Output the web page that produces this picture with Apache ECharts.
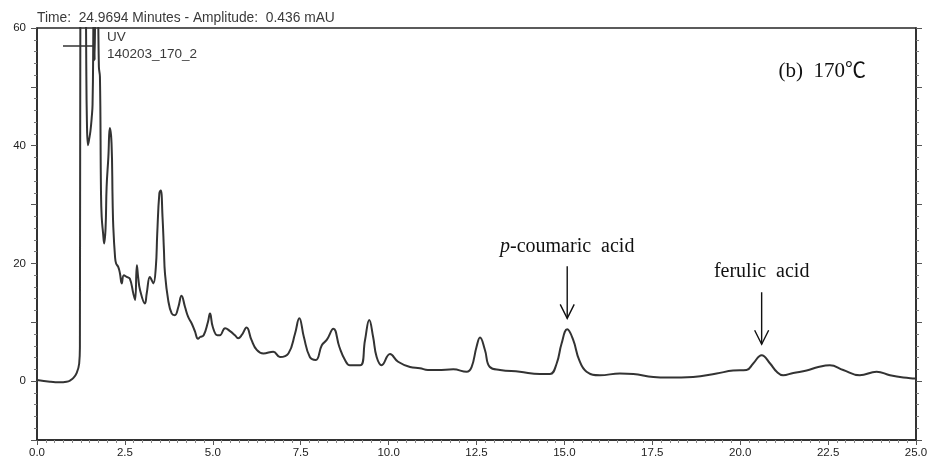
<!DOCTYPE html>
<html>
<head>
<meta charset="utf-8">
<script src="https://cdn.jsdelivr.net/npm/echarts@6/dist/echarts.min.js"></script>
<style>
  html, body { margin: 0; padding: 0; background: #ffffff; }
  #chart { width: 932px; height: 466px; }
</style>
</head>
<body>
<div id="chart"></div>
<script>
// Retention time (min) and detector response (mAU) of the UV trace
const retentionTime = [
  0.00, 0.37, 0.65, 0.84, 0.94, 1.03, 1.13, 1.20, 1.22, 1.235, 1.30, 1.36, 1.40, 1.42, 1.45,
  1.48, 1.52, 1.555, 1.58, 1.60, 1.615, 1.63, 1.64, 1.655, 1.68, 1.73, 1.76, 1.79, 1.82, 1.84,
  1.88, 1.91, 1.95, 1.98, 2.03, 2.07, 2.12, 2.15, 2.17, 2.22, 2.25, 2.31, 2.36, 2.41, 2.47,
  2.55, 2.64, 2.74, 2.79, 2.84, 2.88, 2.93, 3.07, 3.12, 3.21, 3.26, 3.31, 3.38, 3.42, 3.48,
  3.52, 3.57, 3.61, 3.64, 3.73, 3.83, 3.92, 4.02, 4.11, 4.21, 4.30, 4.40, 4.49, 4.58, 4.64,
  4.74, 4.86, 4.92, 5.00, 5.13, 5.20, 5.35, 5.49, 5.63, 5.72, 5.82, 5.96, 6.10, 6.25, 6.44,
  6.72, 6.91, 7.15, 7.34, 7.46, 7.59, 7.76, 7.93, 8.10, 8.24, 8.43, 8.60, 8.76, 8.90, 9.19,
  9.33, 9.45, 9.56, 9.66, 9.80, 10.04, 10.27, 10.61, 10.89, 11.12, 11.40, 11.84, 12.22, 12.36, 12.50,
  12.60, 12.74, 12.88, 13.17, 13.73, 14.30, 14.59, 14.78, 14.92, 15.08, 15.25, 15.42, 15.63, 16.01,
  16.58, 16.96, 17.53, 17.95, 18.66, 19.33, 19.80, 20.18, 20.37, 20.61, 20.85, 21.04, 21.22, 21.51,
  21.89, 22.22, 22.55, 22.93, 23.40, 23.88, 24.26, 24.64, 24.97, 25.00
];
const absorbance = [
  0.2, -0.1, -0.2, -0.1, 0.1, 0.5, 1.4, 3.0, 5.8, 70, 110, 90, 55, 44, 40.1,
  41, 42.5, 44.7, 47, 58, 75, 62, 54.5, 65, 90, 70, 53.4, 51.7, 32.2, 27.9,
  25.1, 23.4, 26, 33, 38.1, 43, 40.4, 30.8, 26.2, 21.1, 20, 19.4, 18.3, 16.6, 18,
  17.7, 17.4, 14.9, 13.8, 19.7, 17.5, 15.5, 13.2, 14.9, 17.7, 17.2, 16.6, 19.4, 25.1, 31.9,
  32.4, 27.9, 22.3, 18.3, 13.8, 11.5, 11.2, 12.6, 14.5, 12.6, 10.9, 9.8, 8.5, 7.2, 7.5,
  7.8, 10, 11.5, 9.2, 7.8, 7.8, 9, 8.5, 7.8, 7.3, 7.8, 9.1, 7, 5.3, 4.7,
  5, 4.1, 4.7, 8.1, 10.7, 7.5, 4.1, 3.6, 6.1, 7, 8.9, 5.8, 3.6, 2.7, 2.7,
  7, 10.4, 7.5, 4.1, 2.7, 4.6, 3.3, 2.4, 2.2, 1.9, 1.9, 2, 1.6, 2.4, 5.8,
  7.4, 5.3, 2.4, 1.9, 1.6, 1.2, 1.2, 3, 6.4, 8.8, 7, 3.6, 1.6, 1,
  1.3, 1.2, 0.7, 0.6, 0.7, 1.3, 1.8, 1.9, 3, 4.4, 3, 1.6, 1, 1.4,
  1.8, 2.4, 2.7, 1.9, 1, 1.6, 1, 0.6, 0.45, 0.43
];
const yLabelValues = [0, 20, 40, 60];
const peakNames = ['p-coumaric acid', 'ferulic acid'];
const peakTimes = [15.08, 20.61];
const peakHeights = [8.8, 4.4];

const headerText = 'Time:  24.9694 Minutes - Amplitude:  0.436 mAU';
const traceName = 'UV';
const runName = '140203_170_2';
const panelText = '(b)  170\u2103';

const chart = echarts.init(document.getElementById('chart'), null, { renderer: 'canvas' });

const ink = '#262626';
const sansFont = '"Liberation Sans", Arial, sans-serif';
const serifFont = '"Liberation Serif", "Times New Roman", "Noto Sans CJK SC", serif';

const yAxisBase = {
  type: 'value',
  min: -10,
  max: 60,
  interval: 10,
  axisLine: { show: true, onZero: false, lineStyle: { color: ink, width: 1.5 } },
  axisTick: { show: true, length: 6, lineStyle: { color: '#555', width: 1 } },
  minorTick: { show: true, splitNumber: 5, length: 3, lineStyle: { color: '#777', width: 1 } },
  splitLine: { show: false },
  minorSplitLine: { show: false }
};

chart.setOption({
  animation: false,
  backgroundColor: '#ffffff',
  title: {
    text: headerText,
    left: 37,
    top: 11,
    padding: 0,
    textStyle: { fontSize: 13.8, fontWeight: 'normal', color: '#3a3a3a', fontFamily: sansFont }
  },
  legend: {
    data: [traceName],
    left: 63,
    top: 29,
    padding: 0,
    icon: 'rect',
    itemWidth: 30,
    itemHeight: 1.5,
    formatter: () => traceName + '\n' + runName,
    textStyle: {
      fontSize: 13.5, lineHeight: 17, color: '#3a3a3a', fontFamily: sansFont,
      padding: [0, 0, 0, 9]
    }
  },
  grid: {
    left: 37, right: 16, top: 28, bottom: 26,
    show: true, borderColor: ink, borderWidth: 1.5, backgroundColor: 'transparent'
  },
  xAxis: {
    type: 'value',
    min: 0,
    max: 25,
    interval: 2.5,
    axisLine: { show: true, onZero: false, lineStyle: { color: ink, width: 1.5 } },
    axisTick: { show: true, length: 5, lineStyle: { color: '#555', width: 1 } },
    minorTick: { show: true, splitNumber: 10, length: 3, lineStyle: { color: '#888', width: 1 } },
    splitLine: { show: false },
    axisLabel: {
      formatter: v => v.toFixed(1),
      fontSize: 11.5, color: '#222', margin: 7, fontFamily: sansFont
    }
  },
  yAxis: [
    Object.assign({}, yAxisBase, {
      position: 'left',
      axisLabel: {
        formatter: v => (yLabelValues.includes(v) ? String(v) : ''),
        fontSize: 11.5, color: '#222', margin: 11, fontFamily: sansFont
      }
    }),
    Object.assign({}, yAxisBase, {
      position: 'right',
      axisLabel: { show: false }
    })
  ],
  series: [{
    name: traceName,
    type: 'line',
    data: retentionTime.map((t, i) => [t, absorbance[i]]),
    showSymbol: false,
    smooth: 0.45,
    clip: true,
    color: '#333333',
    lineStyle: { color: '#333333', width: 2 }
  }]
});

// Peak annotations: label text with a downward arrow ending just above each peak
function drawAnnotations() {
  const elements = [];
  peakNames.forEach((name, i) => {
    const [px, py] = chart.convertToPixel({ gridIndex: 0 }, [peakTimes[i], peakHeights[i]]);
    const tipY = py - 11;
    const tailY = tipY - 52;
    elements.push({
      type: 'line',
      shape: { x1: px, y1: tailY, x2: px, y2: tipY },
      style: { stroke: '#111', lineWidth: 1.4 }
    });
    elements.push({
      type: 'polyline',
      shape: { points: [[px - 7, tipY - 14], [px, tipY], [px + 7, tipY - 14]] },
      style: { stroke: '#111', lineWidth: 1.4, fill: null }
    });
    const isPara = name.startsWith('p-');
    elements.push({
      type: 'text',
      x: px,
      y: tailY - 20,
      style: {
        text: isPara ? '{i|p}-coumaric  acid' : name.replace(' ', '  '),
        align: 'center',
        verticalAlign: 'middle',
        fontFamily: serifFont,
        fontSize: 20,
        fill: '#111',
        rich: { i: { fontStyle: 'italic', fontFamily: serifFont, fontSize: 20, fill: '#111' } }
      }
    });
  });
  elements.push({
    type: 'text',
    right: 66,
    top: 61,
    style: {
      text: panelText,
      fontFamily: serifFont,
      fontSize: 21,
      fill: '#111'
    }
  });
  chart.setOption({ graphic: elements });
}
drawAnnotations();
</script>
</body>
</html>
